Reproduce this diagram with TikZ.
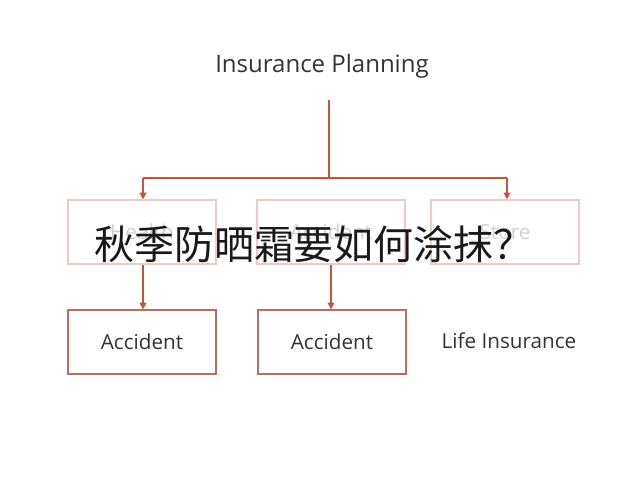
\documentclass[tikz,border=0pt]{standalone}
\usepackage{fontspec}
\setmainfont{Open Sans}
\newfontfamily\cjk{Noto Sans CJK SC}
\usetikzlibrary{arrows.meta}
\definecolor{rust}{RGB}{196,84,58}
\definecolor{boxline}{RGB}{178,112,96}
\definecolor{faint}{RGB}{236,205,198}
\begin{document}
\begin{tikzpicture}[x=0.75pt,y=-0.75pt,
  box/.style={draw=boxline, line width=0.9pt, minimum width=111pt, minimum height=48pt, inner sep=0pt, font=\fontsize{15.5}{18}\selectfont, text=black!80},
  ghost/.style={box, draw=faint, text=black!18},
  arr/.style={draw=rust, line width=0.9pt, -{Triangle[length=5pt,width=5pt]}}]
\useasboundingbox (0,0) rectangle (640,480);
\node[font=\fontsize{18}{21}\selectfont, text=black!80] (title) at (322,66) {Insurance Planning};
\node[ghost] (health) at (142,232) {Health};
\node[ghost] (acc1) at (331,232) {Accident};
\node[ghost] (store) at (505,232) {Store};
\node[box] (acc2) at (142,342) {Accident};
\node[box] (acc3) at (332,342) {Accident};
\node[font=\fontsize{15.5}{18}\selectfont, text=black!80] (life) at (509,341) {Life Insurance};
\coordinate (split) at (329,178);
\draw[rust, line width=0.9pt] (329,100) -- (split);
\draw[rust, line width=0.9pt] (143,178) -- (507,178);
\draw[arr] (143,178) -- (health.north -| 143,0);
\draw[arr] (507,178) -- (store.north -| 507,0);
\draw[arr] (health.south -| 143,0) -- (acc2.north -| 143,0);
\draw[arr] (acc1.south -| 331,0) -- (acc3.north -| 331,0);
\node[font=\cjk\fontsize{30}{34}\selectfont, text=black!90] (cap) at (314,244) {秋季防晒霜要如何涂抹？};
\end{tikzpicture}
\end{document}
